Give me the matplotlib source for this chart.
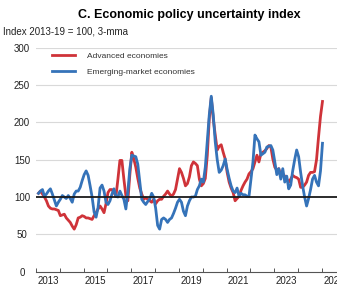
import numpy as np
import matplotlib
matplotlib.use("Agg")
import matplotlib.pyplot as plt

plt.rcParams["font.family"] = ["Liberation Sans", "DejaVu Sans"]

# monthly, Jan 2013 - Dec 2024, index 2013-19 = 100, 3-mma
advanced = [105, 108, 104, 100, 95, 88, 85, 84, 84, 83, 82, 75,
            76, 77, 72, 69, 66, 61, 57, 63, 72, 73, 75, 74,
            72, 72, 71, 70, 75, 79, 84, 88, 84, 79, 91, 106,
            110, 110, 106, 101, 124, 149, 149, 124, 102, 95, 130, 160,
            151, 140, 125, 112, 104, 97, 99, 97, 95, 93, 97, 91,
            95, 97, 97, 101, 104, 108, 104, 101, 104, 110, 124, 138,
            133, 125, 115, 118, 127, 142, 147, 145, 142, 124, 115, 118,
            125, 156, 205, 233, 205, 183, 163, 168, 170, 160, 151, 133,
            120, 112, 106, 95, 98, 101, 109, 115, 120, 124, 131, 134,
            138, 147, 156, 147, 158, 160, 162, 165, 169, 167, 151, 140,
            136, 138, 129, 131, 128, 124, 120, 124, 129, 127, 126, 124,
            113, 113, 116, 120, 129, 133, 133, 134, 150, 180, 208, 228]

emerging = [105, 108, 110, 101, 104, 108, 111, 104, 96, 88, 93, 97,
            102, 100, 98, 102, 98, 93, 104, 108, 108, 113, 122, 130,
            135, 129, 115, 100, 80, 73, 86, 112, 116, 108, 93, 90,
            95, 104, 111, 101, 100, 108, 102, 97, 84, 107, 138, 156,
            155, 154, 144, 120, 97, 93, 90, 94, 97, 105, 100, 85,
            62, 57, 70, 72, 70, 66, 70, 72, 78, 85, 93, 97,
            93, 81, 75, 88, 95, 100, 100, 101, 110, 115, 124, 120,
            140, 175, 210, 235, 210, 174, 150, 133, 136, 142, 151, 137,
            125, 115, 108, 106, 112, 101, 105, 103, 103, 101, 101, 124,
            147, 183, 178, 174, 156, 158, 160, 167, 168, 169, 163, 147,
            130, 138, 124, 138, 120, 128, 111, 116, 135, 150, 163, 154,
            133, 115, 100, 88, 98, 110, 124, 129, 120, 115, 135, 172]

year_labels = ["2013", "2015", "2017", "2019", "2021", "2023", "2025"]
y_ticks = [0, 50, 100, 150, 200, 250, 300]

t = 2013 + (np.arange(len(advanced)) + 1.25) / 12

fig = plt.figure(figsize=(3.37, 2.89), dpi=100)
ax = fig.add_axes([36 / 337, 17.3 / 289, 1 - 36 / 337, (271.7 - 47.7) / 289])

for v in [50, 150, 200, 250, 300]:
    ax.axhline(v, color="#d9d9d9", lw=0.8, zorder=1)
ax.axhline(100, color="#1a1a1a", lw=1.3, zorder=4)

ax.plot(t, advanced, color="#cf3339", lw=2.0, label="Advanced economies", zorder=2)
ax.plot(t, emerging, color="#3573b9", lw=2.0, label="Emerging-market economies", zorder=3)

ax.set_xlim(2013, 2025.63)
ax.set_ylim(0, 300)

for s in ["top", "right", "left"]:
    ax.spines[s].set_visible(False)
ax.spines["bottom"].set_color("#555555")
ax.spines["bottom"].set_linewidth(0.8)

ax.set_xticks(range(2013, 2026))
ax.set_xticklabels([])
ax.set_xticks([int(y) + 0.5 for y in year_labels], minor=True)
ax.set_xticklabels(year_labels, minor=True)
ax.tick_params(axis="x", which="major", direction="in", length=3, width=0.7, color="#555555")
ax.tick_params(axis="x", which="minor", length=0, pad=3, labelsize=7, labelcolor="#222222")

ax.set_yticks(y_ticks)
ax.set_yticklabels([str(v) for v in y_ticks])
ax.tick_params(axis="y", length=0, pad=10, labelsize=7, labelcolor="#222222")
for lab in ax.get_yticklabels():
    lab.set_horizontalalignment("center")

fig.text(189 / 337, 1 - 15 / 289, "C. Economic policy uncertainty index",
         ha="center", va="center", fontsize=9, fontweight="bold")
fig.text(3 / 337, 1 - 32 / 289, "Index 2013-19 = 100, 3-mma",
         ha="left", va="center", fontsize=7, color="#222222")

fig.legend(loc="upper left", bbox_to_anchor=(52 / 337, 1 - 52 / 289),
           frameon=False, fontsize=6, handlelength=2.8, handletextpad=1.4,
           labelspacing=1.0, borderpad=0, borderaxespad=0, labelcolor="#333333")

fig.savefig("out.png", dpi=100)
